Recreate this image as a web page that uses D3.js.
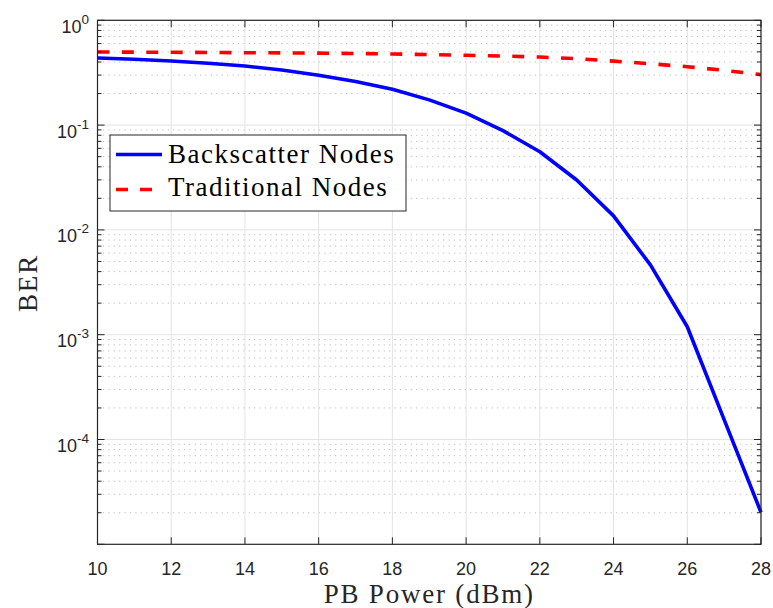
<!DOCTYPE html>
<html>
<head>
<meta charset="utf-8">
<script src="https://cdn.jsdelivr.net/npm/d3@7"></script>
<style>
  body { margin: 0; background: #fff; }
  svg { display: block; }
</style>
</head>
<body>
<div id="vis"></div>
<script>
const width = 773;
const height = 608;

// PB power (dBm)
const pbPower = [10, 11, 12, 13, 14, 15, 16, 17, 18, 19, 20, 21, 22, 23, 24, 25, 26, 27, 28];
// BER
const berBackscatter = [0.437, 0.425, 0.409, 0.389, 0.366, 0.336, 0.299, 0.261, 0.220, 0.174, 0.130,
  0.0885, 0.0557, 0.0299, 0.0136, 0.00463, 0.00119, 0.000155, 0.0000202];
const berTraditional = [0.498, 0.497, 0.495, 0.493, 0.491, 0.489, 0.486, 0.482, 0.477, 0.471, 0.464,
  0.456, 0.446, 0.430, 0.408, 0.385, 0.361, 0.333, 0.303];

const xTicks = [10, 12, 14, 16, 18, 20, 22, 24, 26, 28];
const yExponents = [0, -1, -2, -3, -4];
const seriesNames = ["Backscatter Nodes", "Traditional Nodes"];

const plotLeft = 97.5, plotRight = 761, plotTop = 20.3, plotBottom = 544.3;
const axisColor = "#262626";
const tickFont = "'Liberation Sans', Arial, Helvetica, sans-serif";
const labelFont = "'Liberation Serif', 'Times New Roman', serif";

const x = d3.scaleLinear().domain([10, 28]).range([plotLeft, plotRight]);
const y = d3.scaleLog().domain([1e-5, 1]).range([plotBottom, plotTop]);

const svg = d3.select("#vis").append("svg")
  .attr("width", width)
  .attr("height", height);

// minor grid (2..9 x 10^k)
const minorVals = [];
for (let k = -5; k < 0; k++) {
  for (let m = 2; m <= 9; m++) minorVals.push(m * Math.pow(10, k));
}
svg.append("g").selectAll("line")
  .data(minorVals)
  .join("line")
  .attr("x1", plotLeft).attr("x2", plotRight)
  .attr("y1", d => y(d)).attr("y2", d => y(d))
  .attr("stroke", "#bdbdbd")
  .attr("stroke-width", 1)
  .attr("stroke-dasharray", "1.2,4.2");

// major grid
svg.append("g").selectAll("line")
  .data(xTicks)
  .join("line")
  .attr("x1", d => x(d)).attr("x2", d => x(d))
  .attr("y1", plotTop).attr("y2", plotBottom)
  .attr("stroke", "#e3e3e3")
  .attr("stroke-width", 1);
svg.append("g").selectAll("line")
  .data(yExponents)
  .join("line")
  .attr("x1", plotLeft).attr("x2", plotRight)
  .attr("y1", d => y(Math.pow(10, d))).attr("y2", d => y(Math.pow(10, d)))
  .attr("stroke", "#e3e3e3")
  .attr("stroke-width", 1);

// series lines
const line = d3.line()
  .x((d, i) => x(pbPower[i]))
  .y(d => y(d));

svg.append("path")
  .datum(berTraditional)
  .attr("d", line)
  .attr("fill", "none")
  .attr("stroke", "#ff0000")
  .attr("stroke-width", 3.6)
  .attr("stroke-dasharray", "12,12.4");

svg.append("path")
  .datum(berBackscatter)
  .attr("d", line)
  .attr("fill", "none")
  .attr("stroke", "#0000ff")
  .attr("stroke-width", 3.6)
  .attr("stroke-linejoin", "round");

// axes box
svg.append("rect")
  .attr("x", plotLeft).attr("y", plotTop)
  .attr("width", plotRight - plotLeft).attr("height", plotBottom - plotTop)
  .attr("fill", "none")
  .attr("stroke", axisColor)
  .attr("stroke-width", 1.2);

// x ticks (bottom and top, inward)
const xt = svg.append("g");
xTicks.forEach(t => {
  xt.append("line").attr("x1", x(t)).attr("x2", x(t))
    .attr("y1", plotBottom).attr("y2", plotBottom - 7).attr("stroke", axisColor);
  xt.append("line").attr("x1", x(t)).attr("x2", x(t))
    .attr("y1", plotTop).attr("y2", plotTop + 7).attr("stroke", axisColor);
  xt.append("text")
    .attr("x", x(t)).attr("y", plotBottom + 31)
    .attr("text-anchor", "middle")
    .attr("font-family", tickFont)
    .attr("font-size", 18)
    .attr("fill", axisColor)
    .text(t);
});

// y ticks (left and right, inward)
const yt = svg.append("g");
yExponents.concat([-5]).forEach(e => {
  const yy = y(Math.pow(10, e));
  yt.append("line").attr("x1", plotLeft).attr("x2", plotLeft + 7)
    .attr("y1", yy).attr("y2", yy).attr("stroke", axisColor);
  yt.append("line").attr("x1", plotRight).attr("x2", plotRight - 7)
    .attr("y1", yy).attr("y2", yy).attr("stroke", axisColor);
});
minorVals.forEach(v => {
  const yy = y(v);
  yt.append("line").attr("x1", plotLeft).attr("x2", plotLeft + 4)
    .attr("y1", yy).attr("y2", yy).attr("stroke", axisColor);
  yt.append("line").attr("x1", plotRight).attr("x2", plotRight - 4)
    .attr("y1", yy).attr("y2", yy).attr("stroke", axisColor);
});
yExponents.forEach(e => {
  const yy = y(Math.pow(10, e));
  const label = yt.append("text")
    .attr("x", 89).attr("y", yy + 12.5)
    .attr("text-anchor", "end")
    .attr("font-family", tickFont)
    .attr("font-size", 18)
    .attr("fill", axisColor);
  label.append("tspan").text("10");
  label.append("tspan")
    .attr("font-size", 13.5)
    .attr("dy", -9)
    .text(e === 0 ? "0" : "-" + Math.abs(e));
});

// axis labels
svg.append("text")
  .attr("x", (plotLeft + plotRight) / 2).attr("y", 603)
  .attr("text-anchor", "middle")
  .attr("font-family", labelFont)
  .attr("font-size", 27)
  .attr("letter-spacing", 1.8)
  .attr("fill", axisColor)
  .text("PB Power (dBm)");

svg.append("text")
  .attr("transform", "translate(37,283) rotate(-90)")
  .attr("text-anchor", "middle")
  .attr("font-family", labelFont)
  .attr("font-size", 27)
  .attr("letter-spacing", 1.8)
  .attr("fill", axisColor)
  .text("BER");

// legend
const legend = svg.append("g");
legend.append("rect")
  .attr("x", 110).attr("y", 135)
  .attr("width", 296).attr("height", 76)
  .attr("fill", "#fff")
  .attr("stroke", axisColor)
  .attr("stroke-width", 1);

const legendStyles = [
  { color: "#0000ff", dash: null, ly: 154.5, ty: 162.7 },
  { color: "#ff0000", dash: "12,12", ly: 189.5, ty: 196 }
];
seriesNames.forEach((name, i) => {
  const s = legendStyles[i];
  legend.append("line")
    .attr("x1", 116).attr("x2", 162)
    .attr("y1", s.ly).attr("y2", s.ly)
    .attr("stroke", s.color)
    .attr("stroke-width", 3.6)
    .attr("stroke-dasharray", s.dash);
  legend.append("text")
    .attr("x", 168).attr("y", s.ty)
    .attr("font-family", labelFont)
    .attr("font-size", 27)
    .attr("letter-spacing", 1.5)
    .attr("fill", "#000")
    .text(name);
});
</script>
</body>
</html>
